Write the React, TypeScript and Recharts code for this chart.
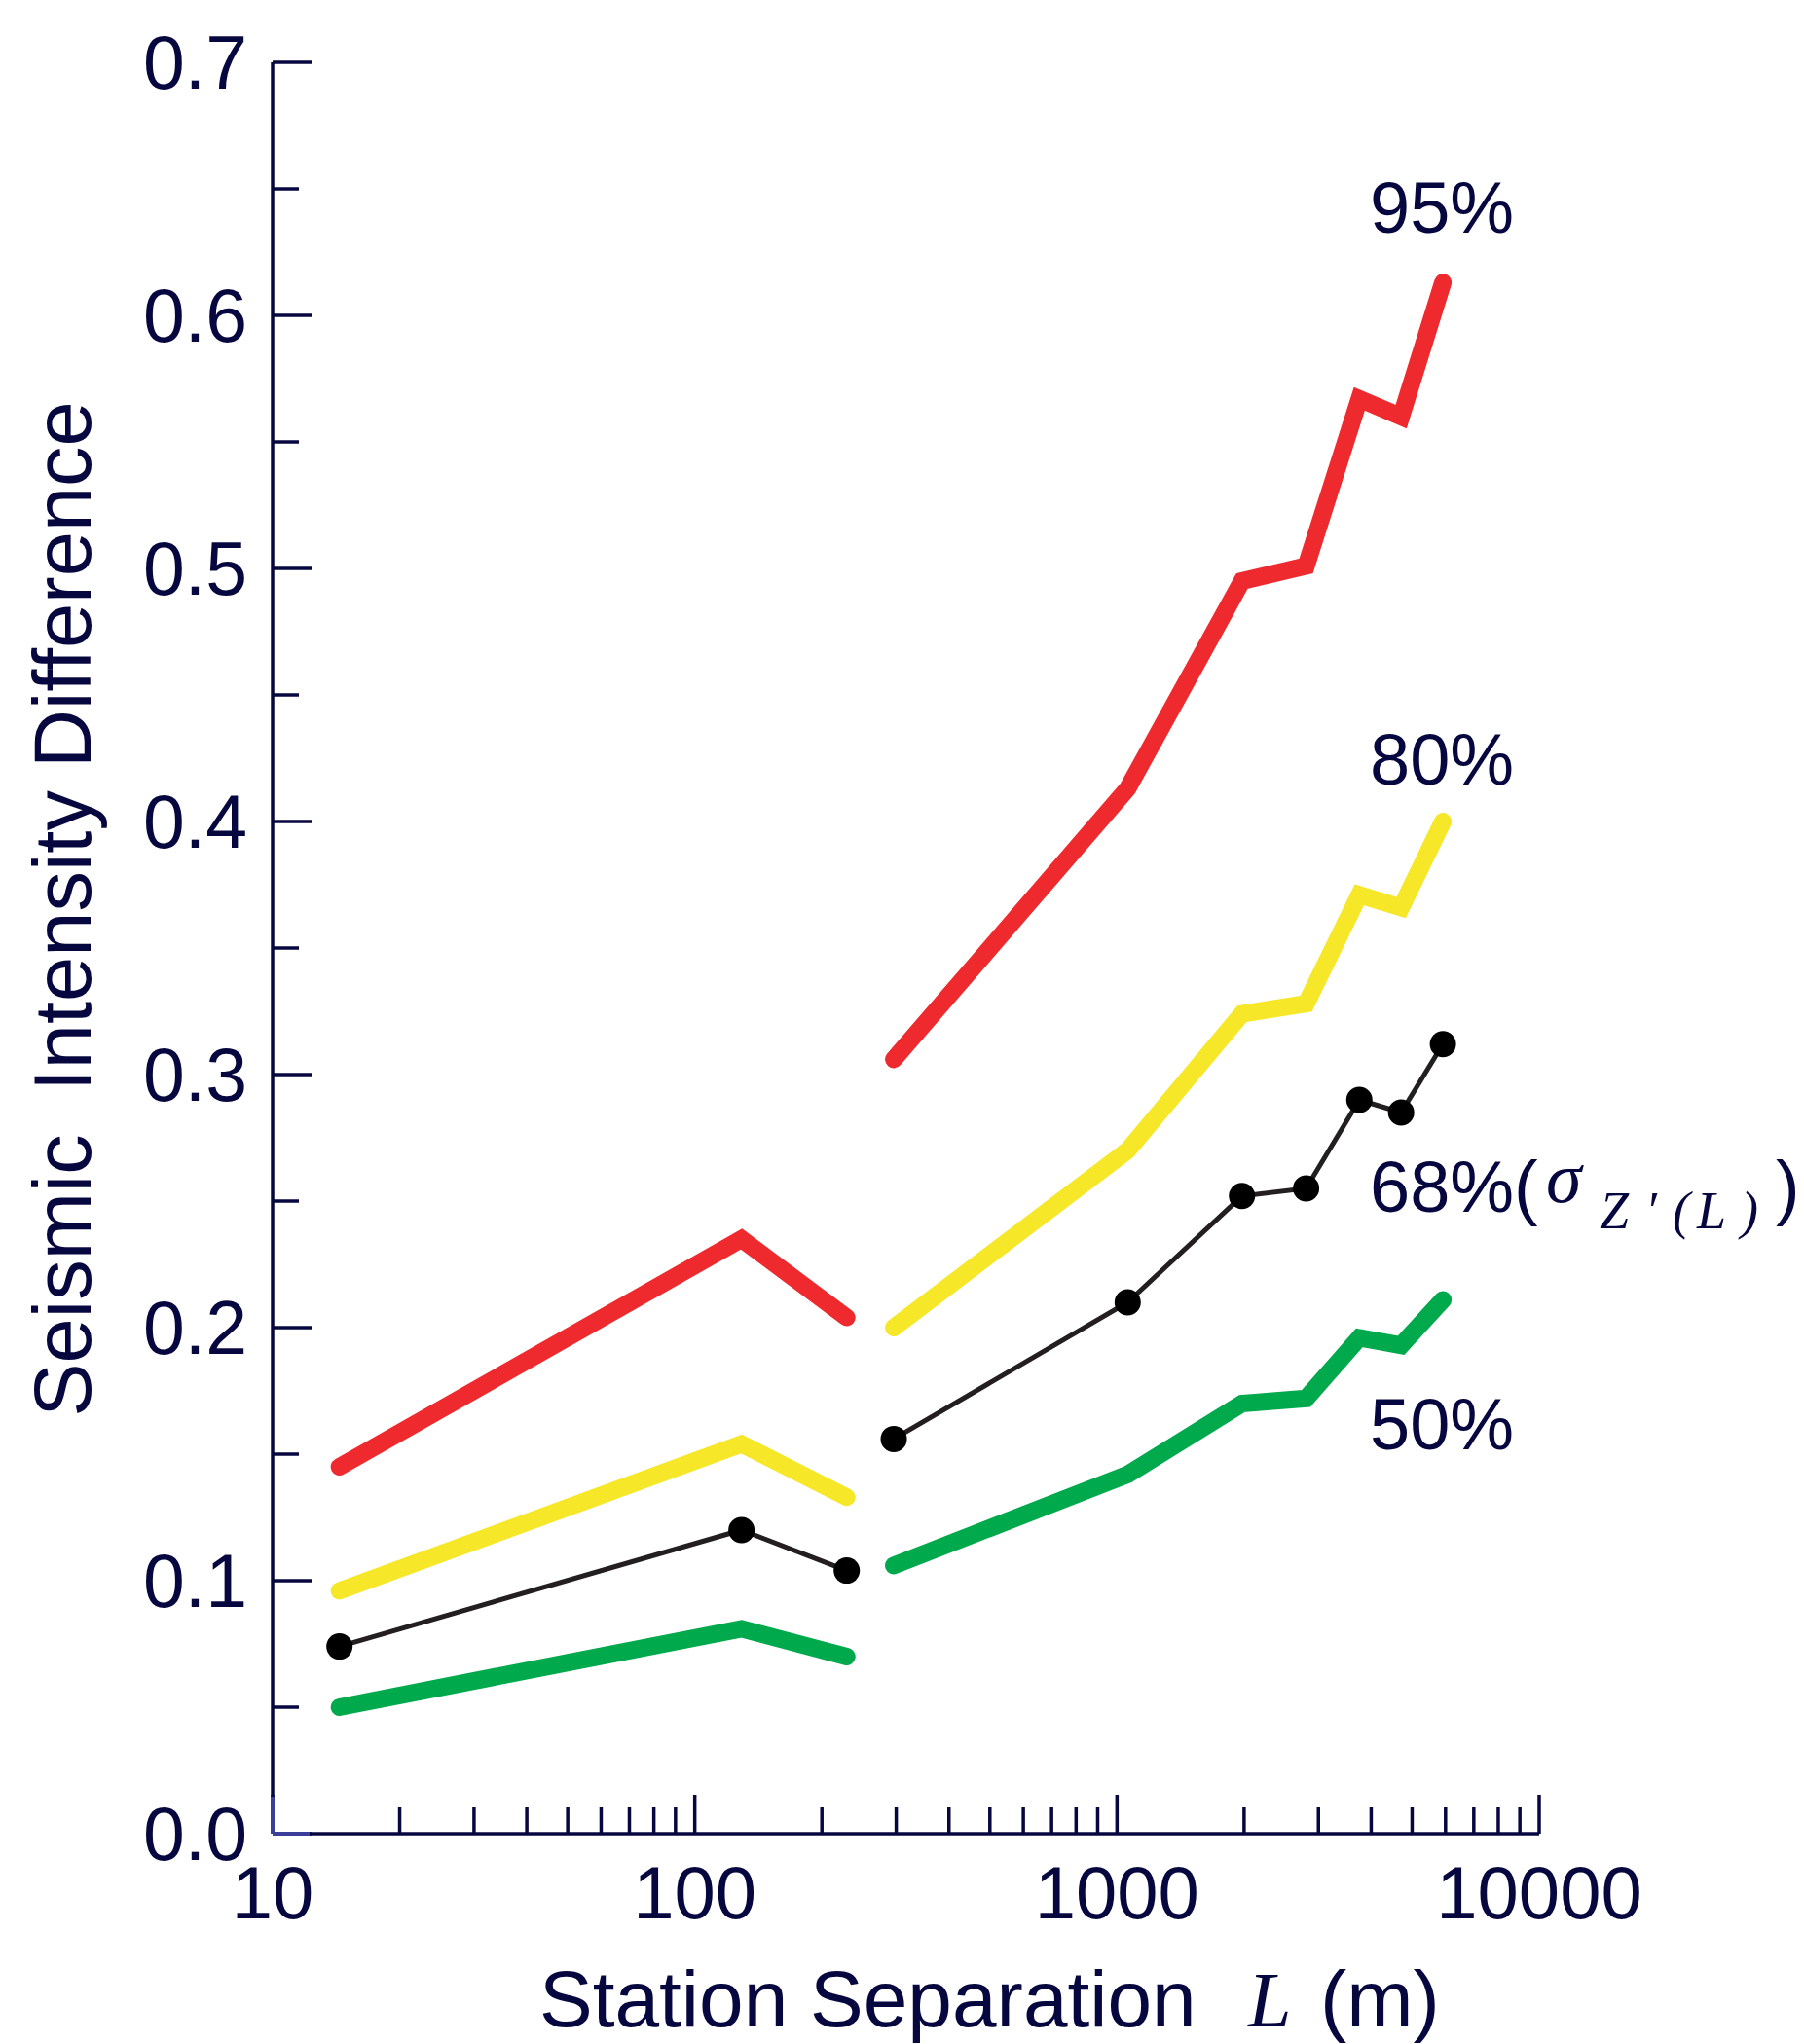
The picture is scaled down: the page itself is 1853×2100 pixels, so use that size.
import React from "react";
import { LineChart, Line, XAxis, YAxis } from "recharts";

// station separation L (m), two groups
const leftL = [14.4, 129, 229];
const rightL = [296, 1060, 1977, 2805, 3750, 4710, 5915];

const p95Left = [0.145, 0.235, 0.204];
const p95Right = [0.306, 0.413, 0.495, 0.501, 0.567, 0.56, 0.613];
const p80Left = [0.096, 0.154, 0.133];
const p80Right = [0.2, 0.27, 0.324, 0.328, 0.371, 0.366, 0.4];
const p68Left = [0.074, 0.12, 0.104];
const p68Right = [0.156, 0.21, 0.252, 0.255, 0.29, 0.285, 0.312];
const p50Left = [0.05, 0.081, 0.07];
const p50Right = [0.106, 0.142, 0.17, 0.172, 0.196, 0.193, 0.211];

const xTicks = [
  10, 20, 30, 40, 50, 60, 70, 80, 90,
  100, 200, 300, 400, 500, 600, 700, 800, 900,
  1000, 2000, 3000, 4000, 5000, 6000, 7000, 8000, 9000,
  10000,
];
const xMajor = [10, 100, 1000, 10000];
const yTicks = [0, 0.05, 0.1, 0.15, 0.2, 0.25, 0.3, 0.35, 0.4, 0.45, 0.5, 0.55, 0.6, 0.65, 0.7];

const NAVY = "#07073f";
const SANS = "'Liberation Sans', Arial, Helvetica, sans-serif";
const SERIF = "'Liberation Serif', 'Times New Roman', serif";

const zip = (xs: number[], ys: number[]) => xs.map((L, i) => ({ L, v: ys[i] }));

const series = [
  { key: "p95", color: "#ee2a2e", left: p95Left, right: p95Right },
  { key: "p80", color: "#f6e829", left: p80Left, right: p80Right },
  { key: "p50", color: "#00a94c", left: p50Left, right: p50Right },
];

function XTick(props: any) {
  const { x, y, payload } = props;
  const major = xMajor.includes(payload.value);
  return (
    <g>
      <line x1={x} x2={x} y1={y} y2={y - (major ? 40 : 27)} stroke={NAVY} strokeWidth={3.5} />
      {major && (
        <text x={x} y={y + 87} textAnchor="middle" fill={NAVY} fontSize={76} fontFamily={SANS}>
          {payload.value}
        </text>
      )}
    </g>
  );
}

function YTick(props: any) {
  const { x, y, payload } = props;
  const major = Math.round(payload.value * 100) % 10 === 0;
  return (
    <g>
      <line x1={x} x2={x + (major ? 40 : 27)} y1={y} y2={y} stroke={NAVY} strokeWidth={3.5} />
      {major && (
        <text x={x - 26} y={y + 27} textAnchor="end" fill={NAVY} fontSize={77} fontFamily={SANS}>
          {payload.value.toFixed(1)}
        </text>
      )}
    </g>
  );
}

export default function App() {
  return (
    <div style={{ position: "absolute", left: 0, top: 0, width: 1853, height: 2100, background: "#fff" }}>
      <LineChart width={1853} height={2100} margin={{ top: 64, right: 272, bottom: 116, left: 80 }}>
        <XAxis
          dataKey="L"
          type="number"
          scale="log"
          domain={[10, 10000]}
          ticks={xTicks}
          interval={0}
          allowDataOverflow
          height={100}
          tickSize={0}
          tickMargin={0}
          axisLine={{ stroke: NAVY, strokeWidth: 3.5 }}
          tick={<XTick />}
        />
        <YAxis
          type="number"
          domain={[0, 0.7]}
          ticks={yTicks}
          interval={0}
          width={200}
          tickSize={0}
          tickMargin={0}
          axisLine={{ stroke: NAVY, strokeWidth: 3.5 }}
          tick={<YTick />}
        />
        {series.map((s) => [
          <Line
            key={s.key + "a"}
            data={zip(leftL, s.left)}
            dataKey="v"
            type="linear"
            stroke={s.color}
            strokeWidth={18}
            strokeLinecap="round"
            strokeLinejoin="miter"
            dot={false}
            isAnimationActive={false}
          />,
          <Line
            key={s.key + "b"}
            data={zip(rightL, s.right)}
            dataKey="v"
            type="linear"
            stroke={s.color}
            strokeWidth={18}
            strokeLinecap="round"
            strokeLinejoin="miter"
            dot={false}
            isAnimationActive={false}
          />,
        ])}
        <Line
          data={zip(leftL, p68Left)}
          dataKey="v"
          type="linear"
          stroke="#231f20"
          strokeWidth={5}
          dot={{ r: 13.5, fill: "#000", stroke: "none" }}
          isAnimationActive={false}
        />
        <Line
          data={zip(rightL, p68Right)}
          dataKey="v"
          type="linear"
          stroke="#231f20"
          strokeWidth={5}
          dot={{ r: 13.5, fill: "#000", stroke: "none" }}
          isAnimationActive={false}
        />
      </LineChart>

      <svg
        width={1853}
        height={2100}
        style={{ position: "absolute", left: 0, top: 0, pointerEvents: "none" }}
      >
        {/* small lighter segment at the origin corner */}
        <line x1={280} x2={280} y1={1846} y2={1884} stroke="#3a3f9a" strokeWidth={4} />
        <line x1={280} x2={318} y1={1884} y2={1884} stroke="#3a3f9a" strokeWidth={4} />

        <text
          x={93}
          y={934}
          transform="rotate(-90, 93, 934)"
          textAnchor="middle"
          fill={NAVY}
          fontSize={83}
          fontFamily={SANS}
        >
          <tspan>Seismic</tspan>
          <tspan dx={44}>Intensity Difference</tspan>
        </text>

        <text x={554} y={2082} fill={NAVY} fontSize={82} fontFamily={SANS}>
          Station Separation
          <tspan x={1282} fontFamily={SERIF} fontStyle="italic" fontSize={80}>
            L
          </tspan>
          <tspan x={1356}>(m)</tspan>
        </text>

        <g fill={NAVY} fontSize={74} fontFamily={SANS}>
          <text x={1407} y={239}>95%</text>
          <text x={1407} y={806}>80%</text>
          <text x={1407} y={1489}>50%</text>
          <text x={1407} y={1245}>
            68%(
            <tspan x={1588} y={1235} fontFamily={SERIF} fontStyle="italic" fontSize={74}>
              σ
            </tspan>
            <tspan
              x="1643 1690 1718 1743 1788"
              y={1262}
              fontFamily={SERIF}
              fontStyle="italic"
              fontSize={54}
            >
              Z′(L)
            </tspan>
            <tspan x={1824} y={1245}>)</tspan>
          </text>
        </g>
      </svg>
    </div>
  );
}
